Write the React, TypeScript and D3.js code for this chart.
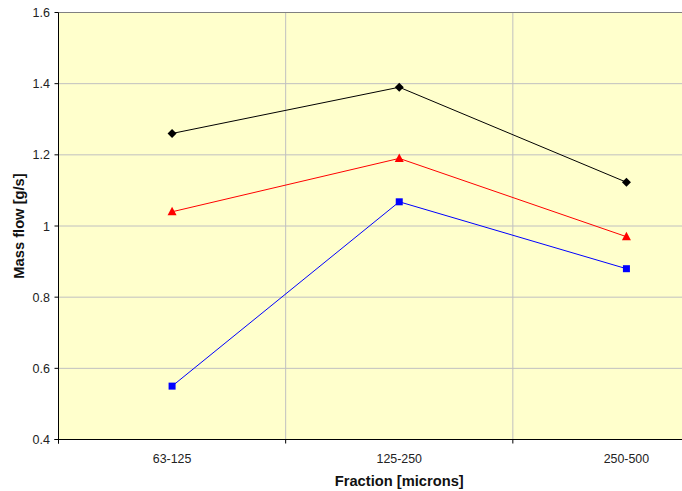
import React from "react";
import * as d3 from "d3";

const categories = ["63-125", "125-250", "250-500"];
const seriesBlack = [1.26, 1.39, 1.123];
const seriesRed = [1.04, 1.19, 0.97];
const seriesBlue = [0.55, 1.068, 0.88];
const yTicks = [0.4, 0.6, 0.8, 1, 1.2, 1.4, 1.6];

const W = 682, H = 491;
const left = 58.5, top = 12.5, bottom = 439.5, right = 740;

export default function App() {
  const x = d3.scaleBand<string>().domain(categories).range([left, right]);
  const y = d3.scaleLinear().domain([0.4, 1.6]).range([bottom, top]);
  const cx = (c: string) => (x(c) as number) + x.bandwidth() / 2;
  const line = d3.line<number>().x((_, i) => cx(categories[i])).y((d) => y(d));
  const font = "'Liberation Sans', Arial, sans-serif";
  const boundaries = categories.slice(1).map((c) => x(c) as number);
  const allTicks = categories.map((c) => x(c) as number).concat([right]);
  return (
    <svg width={W} height={H} style={{ position: "absolute", left: 0, top: 0 }} fontFamily={font}>
      <rect x={0} y={0} width={W} height={H} fill="#fff" />
      <rect x={left} y={top} width={right - left} height={bottom - top} fill="#FFFFCC" />
      {yTicks.slice(1, -1).map((t) => (
        <line key={t} x1={left} x2={right} y1={y(t)} y2={y(t)} stroke="#C0C0C0" strokeWidth={1} />
      ))}
      {boundaries.map((b, i) => (
        <line key={i} x1={b} x2={b} y1={top} y2={bottom} stroke="#C0C0C0" strokeWidth={1} />
      ))}
      <line x1={left} x2={right} y1={top} y2={top} stroke="#808080" strokeWidth={1} />
      <line x1={left} x2={left} y1={top} y2={bottom + 4} stroke="#000" strokeWidth={1} />
      <line x1={left - 4} x2={right} y1={bottom} y2={bottom} stroke="#000" strokeWidth={1} />
      {yTicks.map((t) => (
        <g key={t}>
          <line x1={left - 4} x2={left} y1={y(t)} y2={y(t)} stroke="#000" />
          <text x={50} y={y(t)} dy="0.36em" textAnchor="end" fontSize={12.5} fill="#222">{String(t)}</text>
        </g>
      ))}
      {allTicks.map((t, i) => (
        <line key={i} x1={t} x2={t} y1={bottom} y2={bottom + 4} stroke="#000" />
      ))}
      {categories.map((c) => (
        <text key={c} x={cx(c)} y={462.5} textAnchor="middle" fontSize={12.4} fill="#222">{c}</text>
      ))}
      <text x={(left + right) / 2} y={485.5} textAnchor="middle" fontSize={14.7} fontWeight="bold" fill="#111">Fraction [microns]</text>
      <text transform={`translate(24,${(top + bottom) / 2}) rotate(-90)`} textAnchor="middle" fontSize={14.7} fontWeight="bold" fill="#111">Mass flow [g/s]</text>

      <path d={line(seriesBlack) || ""} fill="none" stroke="#000" strokeWidth={1} />
      <path d={line(seriesRed) || ""} fill="none" stroke="#FF0000" strokeWidth={1} />
      <path d={line(seriesBlue) || ""} fill="none" stroke="#0000FF" strokeWidth={1} />
      {seriesBlack.map((v, i) => {
        const px = cx(categories[i]), py = y(v);
        return <path key={i} d={`M${px},${py - 4.5}L${px + 4.5},${py}L${px},${py + 4.5}L${px - 4.5},${py}Z`} fill="#000" />;
      })}
      {seriesRed.map((v, i) => {
        const px = cx(categories[i]), py = y(v);
        return <path key={i} d={`M${px},${py - 5}L${px + 4.5},${py + 3.5}L${px - 4.5},${py + 3.5}Z`} fill="#FF0000" />;
      })}
      {seriesBlue.map((v, i) => {
        const px = cx(categories[i]), py = y(v);
        return <rect key={i} x={px - 3.5} y={py - 3.5} width={7} height={7} fill="#0000FF" />;
      })}
    </svg>
  );
}
